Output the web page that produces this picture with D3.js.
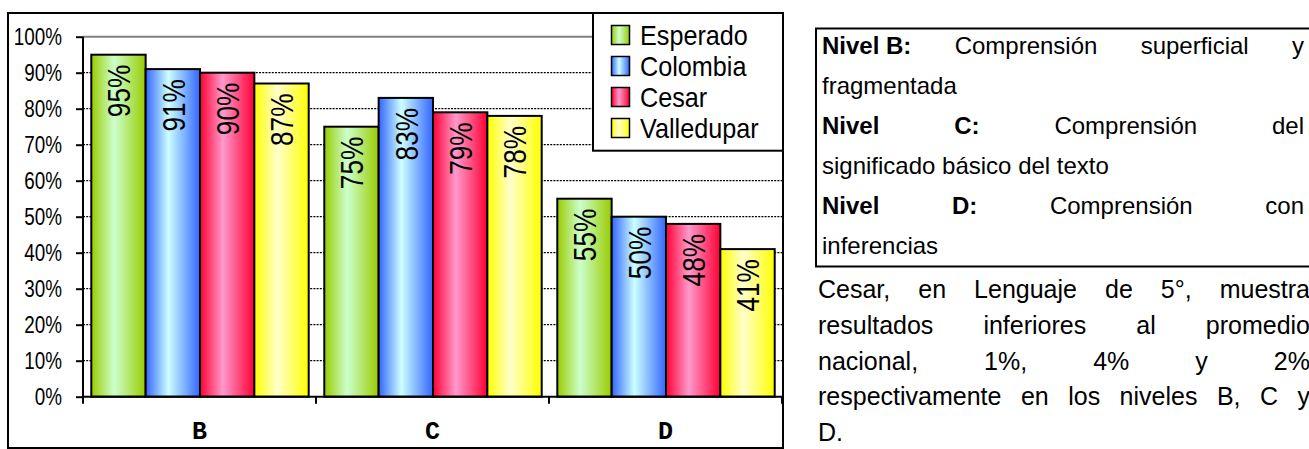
<!DOCTYPE html>
<html><head><meta charset="utf-8">
<script src="https://cdn.jsdelivr.net/npm/d3@7"></script>
<style>body{margin:0;background:#fff;overflow:hidden} svg{display:block}</style>
</head><body>
<script>
// ---- data ----
const categories = ["B", "C", "D"];
const seriesNames = ["Esperado", "Colombia", "Cesar", "Valledupar"];
const esperado = [95, 75, 55];
const colombia = [91, 83, 50];
const cesar = [90, 79, 48];
const valledupar = [87, 78, 41];
const yTickValues = [0, 10, 20, 30, 40, 50, 60, 70, 80, 90, 100];
const edgeColors = ["#99cc00", "#3366ff", "#ff0033", "#ffff00"];
const centerColors = ["#ccffcc", "#ccffff", "#ff99cc", "#ffffcc"];

const boxParagraphs = [
  [[{t:"Nivel B:",b:true},{t:"Comprensión"},{t:"superficial"},{t:"y"}], [{t:"fragmentada"}]],
  [[{t:"Nivel",b:true},{t:"C:",b:true},{t:"Comprensión"},{t:"del"}], [{t:"significado"},{t:"básico"},{t:"del"},{t:"texto"}]],
  [[{t:"Nivel",b:true},{t:"D:",b:true},{t:"Comprensión"},{t:"con"}], [{t:"inferencias"}]]
];
const noteLines = [
  ["Cesar,", "en", "Lenguaje", "de", "5°,", "muestra"],
  ["resultados", "inferiores", "al", "promedio"],
  ["nacional,", "1%,", "4%", "y", "2%"],
  ["respectivamente", "en", "los", "niveles", "B,", "C", "y"],
  ["D."]
];

const seriesValues = [esperado, colombia, cesar, valledupar];

const W = 1309, H = 449;
const NARROW = 0.82;
const svg = d3.select("body").append("svg").attr("width", W).attr("height", H);
const defs = svg.append("defs");
seriesNames.forEach((s, i) => {
  const g = defs.append("linearGradient").attr("id", "grad" + i)
    .attr("x1", "0%").attr("x2", "100%").attr("y1", "0%").attr("y2", "0%");
  g.append("stop").attr("offset", "0%").attr("stop-color", edgeColors[i]);
  g.append("stop").attr("offset", "42%").attr("stop-color", centerColors[i]);
  g.append("stop").attr("offset", "100%").attr("stop-color", edgeColors[i]);
});

// chart border
svg.append("rect").attr("x", 8).attr("y", 13).attr("width", 775).attr("height", 435)
  .attr("fill", "#fff").attr("stroke", "#000").attr("stroke-width", 2);

const x = d3.scaleBand().domain(categories).range([83, 782]).padding(0);
const xi = d3.scaleBand().domain(seriesNames).range([8.3, x.bandwidth() - 7.3]).padding(0);
const y = d3.scaleLinear().domain([0, 100]).range([396.7, 36.7]);

// gridlines
svg.append("g").selectAll("line").data(yTickValues.filter(v => v > 0 && v < 100)).join("line")
  .attr("x1", 83).attr("x2", 782).attr("y1", d => y(d)).attr("y2", d => y(d))
  .attr("stroke", "#000").attr("stroke-width", 1.2).attr("stroke-dasharray", "2,1.2");
svg.append("line").attr("x1", 83).attr("x2", 782).attr("y1", y(100)).attr("y2", y(100))
  .attr("stroke", "#808080").attr("stroke-width", 2);

// bars
const groups = svg.append("g").selectAll("g").data(categories).join("g")
  .attr("transform", d => `translate(${x(d)},0)`);
groups.each(function(cat, ci) {
  const g = d3.select(this);
  const rows = seriesNames.map((s, si) => ({s, si, v: seriesValues[si][ci]}));
  g.selectAll("rect").data(rows).join("rect")
    .attr("x", d => xi(d.s)).attr("width", xi.bandwidth())
    .attr("y", d => y(d.v)).attr("height", d => y(0) - y(d.v))
    .attr("fill", d => `url(#grad${d.si})`).attr("stroke", "#000").attr("stroke-width", 2);
  g.selectAll("text").data(rows).join("text")
    .attr("transform", d => `translate(${xi(d.s) + xi.bandwidth() / 2 + 1},${y(d.v) + 10}) rotate(-90) scale(${NARROW},1)`)
    .attr("text-anchor", "end").attr("dominant-baseline", "central")
    .style("font-family", "'Liberation Sans',Arial,sans-serif")
    .style("font-size", "32px").attr("fill", "#000")
    .text(d => d.v + "%");
});

// axes
const yAxis = d3.axisLeft(y).tickValues(yTickValues).tickSize(7).tickPadding(0).tickFormat(d => d + "%");
const ya = svg.append("g").attr("transform", "translate(83,0)").call(yAxis);
ya.select(".domain").attr("stroke-width", 2).attr("d", `M0,${y(100)}V${y(0)}`);
ya.selectAll(".tick line").attr("stroke-width", 2);
ya.selectAll("text").attr("x", null).attr("dy", null)
  .attr("transform", `translate(-21,0) scale(${NARROW},1)`)
  .attr("dominant-baseline", "central")
  .style("font-family", "'Liberation Sans',Arial,sans-serif")
  .style("font-size", "23px").attr("fill", "#000");

const xa = svg.append("g").attr("transform", `translate(0,${y(0)})`)
  .call(d3.axisBottom(x).tickSize(0).tickPadding(0).tickFormat(""));
xa.select(".domain").attr("stroke-width", 2).attr("d", "M83,0H782");
xa.selectAll(".tick").remove();
xa.selectAll(".sep").data(categories.concat(["end"])).join("line").attr("class", "sep")
  .attr("x1", (d, i) => 83 + i * x.bandwidth()).attr("x2", (d, i) => 83 + i * x.bandwidth())
  .attr("y1", 0).attr("y2", 7).attr("stroke", "#000").attr("stroke-width", 2);
svg.append("g").selectAll("text").data(categories).join("text")
  .attr("x", d => x(d) + x.bandwidth() / 2).attr("y", 439).attr("text-anchor", "middle")
  .style("font-family", "'Liberation Mono','Courier New',monospace").style("font-weight", "bold")
  .style("font-size", "25px").text(d => d);

// legend
const lg = svg.append("g");
lg.append("rect").attr("x", 593).attr("y", 13).attr("width", 190).attr("height", 137.7)
  .attr("fill", "#fff").attr("stroke", "#000").attr("stroke-width", 2);
const li = lg.selectAll("g").data(seriesNames).join("g")
  .attr("transform", (d, i) => `translate(0,${35 + i * 31})`);
li.append("rect").attr("x", 611.5).attr("y", -9.5).attr("width", 18).attr("height", 19)
  .attr("fill", (d, i) => `url(#grad${i})`).attr("stroke", "#000").attr("stroke-width", 1.5);
li.append("text").attr("transform", "translate(640,9.5) scale(0.9,1)").text(d => d)
  .style("font-family", "'Liberation Sans',Arial,sans-serif").style("font-size", "28px");

// right text
svg.append("rect").attr("x", 816).attr("y", 28.5).attr("width", 520).attr("height", 238)
  .attr("fill", "none").attr("stroke", "#000").attr("stroke-width", 2);

function layLine(words, x0, x1, yb, justify, fs) {
  const g = svg.append("g");
  const els = words.map(w => g.append("text").attr("y", yb).text(w.t)
    .style("font-family", "'Liberation Sans',Arial,sans-serif").style("font-size", fs + "px")
    .style("font-weight", w.b ? "bold" : "normal"));
  const widths = els.map(e => e.node().getComputedTextLength());
  const total = d3.sum(widths);
  const gap = (justify && words.length > 1) ? (x1 - x0 - total) / (words.length - 1) : fs * 0.278;
  let cx = x0;
  els.forEach((e, i) => { e.attr("x", cx); cx += widths[i] + gap; });
}
let yb = 54;
boxParagraphs.forEach(p => {
  p.forEach((line, li2) => {
    layLine(line, 822, 1304, yb, li2 < p.length - 1, 24);
    yb += 40;
  });
});
noteLines.forEach((line, i) => {
  layLine(line.map(t => ({t})), 818, 1310, 298 + i * 35.8, i < noteLines.length - 1, 25);
});
</script>
</body></html>
